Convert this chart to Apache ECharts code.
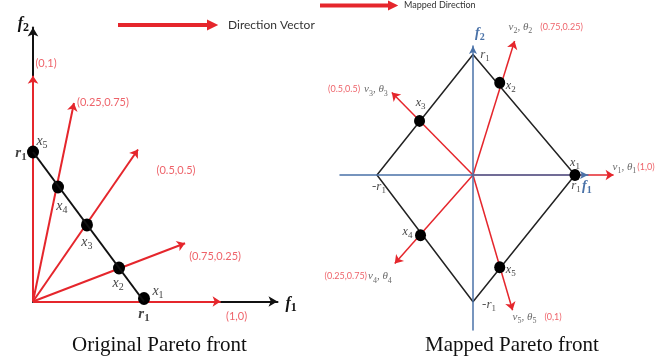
<!DOCTYPE html>
<html>
<head>
<meta charset="utf-8">
<script src="https://cdn.jsdelivr.net/npm/echarts@6/dist/echarts.min.js"></script>
<style>
  html, body { margin: 0; padding: 0; background: #fff; }
  #chart { width: 662px; height: 362px; }
</style>
</head>
<body>
<div id="chart"></div>
<script>
// ---- Original Pareto front (objective space f1, f2; r1 = 1) ----
const weightLabels  = ['(1,0)', '(0.75,0.25)', '(0.5,0.5)', '(0.25,0.75)', '(0,1)'];
const directionTips = [[1.69, 0], [1.37, 0.39], [0.946, 1.017], [0.369, 1.328], [0, 1.51]];
const frontEnds     = [[0, 1], [1, 0]];
const frontEndNames = ['r_1', 'r_1'];
const frontPoints   = [[1.0, 0.02], [0.775, 0.224], [0.486, 0.512], [0.225, 0.766], [0, 1.0]];
const pointNames    = ['x_1', 'x_2', 'x_3', 'x_4', 'x_5'];

// ---- Mapped Pareto front (directions v_k at angles theta_k, diamond |f1| + |f2| = r1) ----
const mappedNames   = ['v_1, θ_1', 'v_2, θ_2', 'v_3, θ_3', 'v_4, θ_4', 'v_5, θ_5'];
const mappedTips    = [[1.42, 0], [0.42, 1.09], [-0.82, 0.67], [-0.79, -0.72], [0.40, -1.10]];
const mappedPoints  = [[1.03, 0], [0.27, 0.75], [-0.54, 0.44], [-0.53, -0.49], [0.27, -0.75]];
const diamond       = [[1.03, 0], [0, 0.98], [-0.97, 0], [0, -1.03], [1.03, 0]];
const diamondNames  = ['r_1', 'r_1', '-r_1', '-r_1'];

const RED = '#e5262c';
const RED_TEXT = '#ea3b44';
const BLUE = '#4a72a8';
const GREY = '#444444';
const SERIF = "'Liberation Serif', 'Times New Roman', serif";
const SANS = "Lato, 'Open Sans', sans-serif";

// 'x_1' -> '{m|x}{s|1}'
function sub(str, m, s) {
  return str.split(/(_\d)/).filter(Boolean)
    .map(p => p[0] === '_' ? `{${s}|${p.slice(1)}}` : `{${m}|${p}}`).join('');
}
function richMath(size, color, weight) {
  return {
    m: { fontFamily: SERIF, fontSize: size, fontStyle: 'italic', fontWeight: weight, color: color, lineHeight: size + 4 },
    s: { fontFamily: SERIF, fontSize: Math.round(size * 0.72), fontWeight: weight, color: color,
         lineHeight: Math.round(size * 0.72) + 1, verticalAlign: 'bottom' }
  };
}

// label offsets (pixels) relative to the marks they annotate
const tipLabelOffsets    = [[16, 15], [30, 13], [38, 21], [29, -1], [13, -12]];
const pointLabelOffsets  = [[14, -7], [-1, 15], [0, 17], [4, 19], [9, -11]];
const endLabelOffsets    = [[-12, 1], [0, 13]];
const mPointLabelOffsets = [[0, -12], [11, 3], [1, -18], [-13, -3], [11, 3]];
const vertexLabelOffsets = [[1, 11], [12, 0], [2, 12], [16, 3]];
const mTipLabelLayout    = [
  { offset: [-1, -8], align: 'left', gap: 'g0' },
  { offset: [-6, -14], align: 'left', gap: 'g2' },
  { offset: [-4, -3], align: 'right', gap: 'g1' },
  { offset: [-3, 13], align: 'right', gap: 'g0' },
  { offset: [0, 7], align: 'left', gap: 'g2' }
];

const arrowIcon  = 'path://M0,3 L89,3 L89,0 L97,4 L89,8 L89,5 L0,5 Z';
const arrowIcon2 = 'path://M0,2.6 L68,2.6 L68,0 L75,3.5 L68,7 L68,4.4 L0,4.4 Z';

function textMarks(points, labels, offsets) {
  return points.map((p, i) => ({ value: p, label: { offset: offsets[i], formatter: labels[i] } }));
}

const option = {
  animation: false,
  title: [
    { text: 'Original Pareto front', left: 72, top: 335, padding: 0,
      textStyle: { fontFamily: SERIF, fontSize: 21, fontWeight: 'normal', color: '#111' } },
    { text: 'Mapped Pareto front', left: 425, top: 335, padding: 0,
      textStyle: { fontFamily: SERIF, fontSize: 21, fontWeight: 'normal', color: '#111' } }
  ],
  legend: [
    { data: ['Direction Vector'], left: 118, top: 19, padding: 0, selectedMode: false,
      itemWidth: 97, itemHeight: 8, icon: arrowIcon, itemStyle: { color: RED },
      textStyle: { fontFamily: SANS, fontSize: 12, color: '#333', padding: [3, 0, 0, 7] } },
    { data: ['Mapped Direction'], left: 320, top: 1, padding: 0, selectedMode: false,
      itemWidth: 75, itemHeight: 7, icon: arrowIcon2, itemStyle: { color: RED },
      textStyle: { fontFamily: SANS, fontSize: 9, color: '#333', padding: [3, 0, 0, 3] } }
  ],
  grid: [
    { left: 33, top: 27.5, width: 244.5, height: 274 },
    { left: 340, top: 46, width: 248, height: 284 }
  ],
  xAxis: [
    { gridIndex: 0, type: 'value', min: 0, max: 2.2027,
      name: sub('f_1', 'm', 's'), nameLocation: 'end', nameGap: 8,
      nameTextStyle: { rich: richMath(16, '#111', 'bold'), verticalAlign: 'middle', padding: [4, 0, 0, 0] },
      axisLine: { show: true, onZero: false, symbol: ['none', 'arrow'], symbolSize: [8, 9],
                  lineStyle: { color: '#111', width: 2 } },
      axisTick: { show: false }, axisLabel: { show: false }, splitLine: { show: false } },
    { gridIndex: 1, type: 'value', min: -1.3434, max: 1.1616, z: 5,
      name: sub('f_1', 'm', 's'), nameLocation: 'end', nameGap: -6,
      nameTextStyle: { rich: richMath(14, BLUE, 'bold'), align: 'left', verticalAlign: 'top', padding: [2, 0, 0, 0] },
      axisLine: { show: true, onZero: true, symbol: ['none', 'arrow'], symbolSize: [6, 8],
                  lineStyle: { color: BLUE, width: 1.5 } },
      axisTick: { show: false }, axisLabel: { show: false }, splitLine: { show: false } }
  ],
  yAxis: [
    { gridIndex: 0, type: 'value', min: 0, max: 1.8328,
      name: sub('f_2', 'm', 's'), nameLocation: 'end', nameGap: 4,
      nameTextStyle: { rich: richMath(16, '#111', 'bold'), align: 'right', verticalAlign: 'middle', padding: [0, 4, 0, 0] },
      axisLine: { show: true, onZero: false, symbol: ['none', 'arrow'], symbolSize: [8, 9],
                  lineStyle: { color: '#111', width: 2 } },
      axisTick: { show: false }, axisLabel: { show: false }, splitLine: { show: false } },
    { gridIndex: 1, type: 'value', min: -1.2602, max: 1.0488, z: 5,
      name: sub('f_2', 'm', 's'), nameLocation: 'end', nameGap: 4,
      nameTextStyle: { rich: richMath(14, BLUE, 'bold'), align: 'left', verticalAlign: 'bottom', padding: [0, 0, 0, 2] },
      axisLine: { show: true, onZero: true, symbol: ['none', 'arrow'], symbolSize: [6, 8],
                  lineStyle: { color: BLUE, width: 1.5 } },
      axisTick: { show: false }, axisLabel: { show: false }, splitLine: { show: false } }
  ],
  series: [
    // left panel
    { name: 'Direction Vector', type: 'lines', coordinateSystem: 'cartesian2d', xAxisIndex: 0, yAxisIndex: 0,
      clip: false, symbol: ['none', 'arrow'], symbolSize: [7, 8],
      lineStyle: { color: RED, width: 2, opacity: 1 },
      data: directionTips.map(t => ({ coords: [[0, 0], t] })) },
    { type: 'line', xAxisIndex: 0, yAxisIndex: 0, symbol: 'none', silent: true, clip: false,
      lineStyle: { color: '#111', width: 2 }, data: frontEnds },
    { type: 'scatter', xAxisIndex: 0, yAxisIndex: 0, symbol: 'circle', symbolSize: [12, 13], silent: true, clip: false,
      itemStyle: { color: '#000', opacity: 1 },
      label: { show: true, position: 'inside', rich: richMath(14, GREY, 'normal') },
      data: textMarks(frontPoints, pointNames.map(n => sub(n, 'm', 's')), pointLabelOffsets) },
    { type: 'scatter', xAxisIndex: 0, yAxisIndex: 0, symbolSize: 0, silent: true, clip: false,
      label: { show: true, position: 'inside', rich: richMath(15, '#111', 'bold') },
      data: textMarks(frontEnds, frontEndNames.map(n => sub(n, 'm', 's')), endLabelOffsets) },
    { type: 'scatter', xAxisIndex: 0, yAxisIndex: 0, symbolSize: 0, silent: true, clip: false,
      label: { show: true, position: 'inside', fontFamily: SANS, fontSize: 11, color: RED_TEXT },
      data: textMarks(directionTips, weightLabels, tipLabelOffsets) },

    // right panel
    { name: 'Mapped Direction', type: 'lines', coordinateSystem: 'cartesian2d', xAxisIndex: 1, yAxisIndex: 1,
      clip: false, z: 1, symbol: ['none', 'arrow'], symbolSize: [6, 8],
      lineStyle: { color: RED, width: 1.5, opacity: 1 },
      data: mappedTips.map(t => ({ coords: [[0, 0], t] })) },
    { type: 'line', xAxisIndex: 1, yAxisIndex: 1, symbol: 'none', silent: true, clip: false,
      lineStyle: { color: '#222', width: 1.5 }, data: diamond },
    { type: 'scatter', xAxisIndex: 1, yAxisIndex: 1, symbol: 'circle', symbolSize: [11, 12], silent: true, z: 6, clip: false,
      itemStyle: { color: '#000', opacity: 1 },
      label: { show: true, position: 'inside', rich: richMath(12, GREY, 'normal') },
      data: textMarks(mappedPoints, pointNames.map(n => sub(n, 'm', 's')), mPointLabelOffsets) },
    { type: 'scatter', xAxisIndex: 1, yAxisIndex: 1, symbolSize: 0, silent: true, clip: false,
      label: { show: true, position: 'inside', rich: richMath(13, '#222', 'normal') },
      data: textMarks(diamond.slice(0, 4), diamondNames.map(n => sub(n, 'm', 's')), vertexLabelOffsets) },
    { type: 'scatter', xAxisIndex: 1, yAxisIndex: 1, symbolSize: 0, silent: true, clip: false,
      label: { show: true, position: 'inside', verticalAlign: 'middle',
               rich: Object.assign(richMath(11, GREY, 'normal'),
                 { c: { fontFamily: SANS, fontSize: 9, color: RED_TEXT, lineHeight: 16 },
                   g0: { fontSize: 2, lineHeight: 16, width: 1 },
                   g1: { fontSize: 2, lineHeight: 16, width: 4 },
                   g2: { fontSize: 2, lineHeight: 16, width: 8 } }) },
      data: mappedTips.map((t, i) => {
        const v = sub(mappedNames[i], 'm', 's');
        const c = `{c|${weightLabels[i]}}`;
        const lay = mTipLabelLayout[i];
        const g = `{${lay.gap}| }`;
        return { value: t, label: { offset: lay.offset, align: lay.align,
          formatter: lay.align === 'right' ? `${c}${g}${v}` : `${v}${g}${c}` } };
      }) }
  ]
};

const chart = echarts.init(document.getElementById('chart'), null, { renderer: 'canvas' });
chart.setOption(option);
</script>
</body>
</html>
